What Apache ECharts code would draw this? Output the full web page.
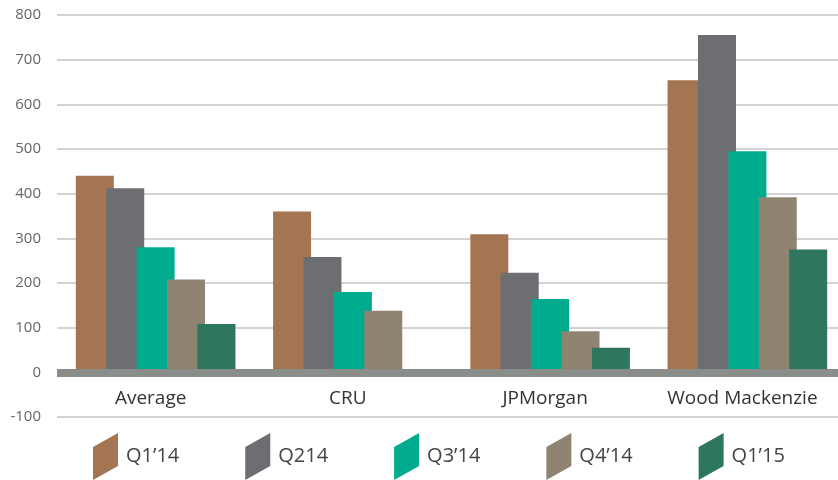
<!DOCTYPE html>
<html>
<head>
<meta charset="utf-8">
<script src="https://cdn.jsdelivr.net/npm/echarts@6/dist/echarts.min.js"></script>
<style>
  html, body { margin: 0; padding: 0; background: #fff; }
  #chart { width: 838px; height: 480px; }
</style>
</head>
<body>
<div id="chart"></div>
<script>
// categories and series values
const categories = ['Average', 'CRU', 'JPMorgan', 'Wood Mackenzie'];
const seriesNames = ['Q1\u201914', 'Q214', 'Q3\u201914', 'Q4\u201914', 'Q1\u201915'];
const q1_14 = [440, 360, 309, 654];
const q2_14 = [412, 258, 223, 755];
const q3_14 = [280, 180, 164, 495];
const q4_14 = [208, 138, 92, 392];
const q1_15 = [108, null, 55, 275];
const colors = ['#a47553', '#6d6e71', '#00ac8e', '#8f8472', '#2e765d'];

const chart = echarts.init(document.getElementById('chart'));

const values = [q1_14, q2_14, q3_14, q4_14, q1_15];
const series = seriesNames.map((name, i) => ({
    name: name,
    type: 'bar',
    data: values[i],
    barWidth: 38,
    barGap: '-20%',
    itemStyle: { color: colors[i] }
}));

// thick zero line drawn over the bar feet
series[series.length - 1].markLine = {
    silent: true,
    symbol: 'none',
    label: { show: false },
    lineStyle: { color: '#8a8e8b', width: 8, type: 'solid' },
    data: [{ yAxis: 0 }]
};

const option = {
    animation: false,
    textStyle: { fontFamily: 'Open Sans' },
    // the plot runs a little past the right edge, as in the source
    grid: { left: 57, width: 789, top: 15, bottom: 63, outerBoundsMode: 'none' },
    legend: {
        left: 93,
        top: 433,
        padding: 0,
        itemWidth: 25,
        itemHeight: 47,
        itemGap: 66,
        icon: 'path://M0,14 L25,0 L25,33 L0,47 Z',
        textStyle: { fontSize: 20, color: '#444', fontFamily: 'Open Sans', padding: [0, 0, 12, 3] }
    },
    xAxis: {
        type: 'category',
        data: categories,
        axisLine: { show: false },
        axisTick: { show: false },
        axisLabel: { interval: 0, fontSize: 19, color: '#333', margin: -28, padding: [0, 10, 0, 0] }
    },
    yAxis: {
        type: 'value',
        min: -100,
        max: 800,
        interval: 100,
        axisLine: { show: false },
        axisTick: { show: false },
        axisLabel: { fontSize: 15, color: '#666', margin: 16 },
        splitLine: { lineStyle: { color: '#c4c4c4', width: 1.5 } }
    },
    series: series
};

chart.setOption(option);
</script>
</body>
</html>
